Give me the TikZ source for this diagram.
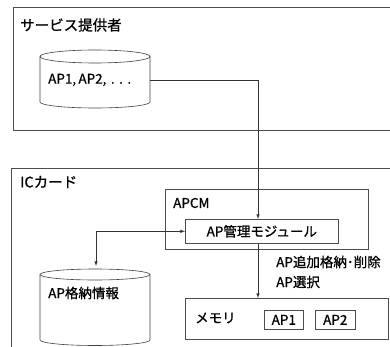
\documentclass[tikz,border=0pt]{standalone}
\usepackage{fontspec}
\newfontfamily\jpfont[FakeBold=0.8]{Noto Sans CJK JP}
\usepackage{tikz}

\begin{document}
\begin{tikzpicture}[x=1pt,y=-1pt]
    % Styles
    \tikzstyle{fleche}=[->,>=latex,line width=0.6pt,black!80]
    \tikzstyle{cadre}=[draw=black!70,line width=0.6pt,rectangle,anchor=north west,inner sep=0pt]
    \tikzstyle{boite}=[cadre,font=\jpfont\fontsize{13.5}{15}\selectfont]
    \tikzstyle{texte}=[anchor=west,inner sep=0pt,font=\jpfont\fontsize{13.5}{15}\selectfont]
    \tikzstyle{titre}=[texte,font=\jpfont\fontsize{14.5}{16}\selectfont]
    \tikzstyle{cylindre}=[draw=black!75,line width=0.6pt]
    \useasboundingbox (0,0) rectangle (390,347);
    % Cadres
    \node[cadre,minimum width=400pt,minimum height=123pt] (SP) at (13,7) {};
    \node[titre] (SPtitre) at (20,25) {サービス提供者};
    \node[cadre,minimum width=400pt,minimum height=200pt] (IC) at (11,168) {};
    \node[titre] (ICtitre) at (20,182) {ICカード};
    \node[cadre,minimum width=203pt,minimum height=60pt] (APCM) at (165,189) {};
    \node[texte] (APCMtitre) at (173,203) {APCM};
    \node[boite,minimum width=153pt,minimum height=24pt,anchor=north west] (module) at (185,219) {};
    \node[texte,anchor=center] (moduletexte) at (module.center) {AP管理モジュール};
    \node[cadre,minimum width=203pt,minimum height=41pt] (memoire) at (185,298) {};
    \node[texte] (memoiretexte) at (195,318) {メモリ};
    \node[boite,minimum width=39pt,minimum height=19pt] (APun) at (264,310) {};
    \node[texte,anchor=center] at (APun.center) {AP1};
    \node[boite,minimum width=40pt,minimum height=19pt] (APdeux) at (315,310) {};
    \node[texte,anchor=center] at (APdeux.center) {AP2};
    % Cylindres
    \draw[cylindre] (40,56.5) -- (40,102) arc[start angle=180,end angle=360,x radius=55pt,y radius=6pt] -- (150,56.5);
    \draw[cylindre] (95,56.5) ellipse [x radius=55pt,y radius=6.5pt];
    \node[texte] (stock) at (48,80) {AP1,\,AP2,\,\,.\,\,.\,\,.};
    \draw[cylindre] (40,274.5) -- (40,340) arc[start angle=180,end angle=360,x radius=55pt,y radius=5.5pt] -- (150,274.5);
    \draw[cylindre] (95,274.5) ellipse [x radius=55pt,y radius=5.5pt];
    \node[texte] (info) at (48,293) {AP格納情報};
    \coordinate (cylA) at (150,80);
    \coordinate (cylB) at (96,266);
    \coordinate (coude) at (258,80);
    % Arcs
    \draw[fleche] (cylA) -- (coude) -- (coude |- module.north);
    \draw[fleche,<->] (module.west) -| (cylB);
    \draw[fleche] (coude |- module.south) -- (coude |- memoire.north);
    \node[texte] (ajout) at (276,262) {AP追加格納･削除};
    \node[texte] (choix) at (276,282) {AP選択};
\end{tikzpicture}
\end{document}
